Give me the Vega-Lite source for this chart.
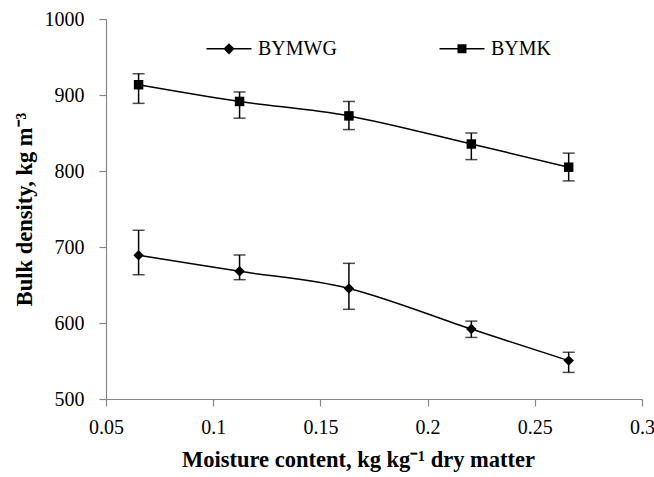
{
  "$schema": "https://vega.github.io/schema/vega-lite/v6.json",
  "width": 536,
  "height": 380,
  "autosize": "none",
  "padding": {"left": 106, "top": 19, "right": 12, "bottom": 78},
  "background": "white",
  "config": {
    "font": "Liberation Serif",
    "view": {"stroke": null},
    "style": {
      "guide-label": {"font": "Liberation Serif", "fontSize": 20, "fill": "black"},
      "guide-title": {"font": "Liberation Serif"}
    },
    "axis": {
      "grid": false,
      "domainColor": "#868686",
      "tickColor": "#868686",
      "domainWidth": 1.2,
      "tickWidth": 1.2,
      "tickSize": 7,
      "labelFont": "Liberation Serif",
      "labelFontSize": 20,
      "labelColor": "black",
      "titleFont": "Liberation Serif",
      "titleFontSize": 22.5,
      "titleFontWeight": "bold",
      "titleColor": "black"
    }
  },
  "data": {
    "values": [
      {"series": "BYMWG", "mc": 0.0652, "bd": 689, "lo": 663.5, "hi": 722},
      {"series": "BYMWG", "mc": 0.1123, "bd": 668, "lo": 657, "hi": 689.5},
      {"series": "BYMWG", "mc": 0.1633, "bd": 645.5, "lo": 618, "hi": 678.5},
      {"series": "BYMWG", "mc": 0.2204, "bd": 592, "lo": 581, "hi": 602.5},
      {"series": "BYMWG", "mc": 0.2658, "bd": 550.5, "lo": 535, "hi": 561.5},
      {"series": "BYMK", "mc": 0.0652, "bd": 913.5, "lo": 889, "hi": 928},
      {"series": "BYMK", "mc": 0.1123, "bd": 891.5, "lo": 869.5, "hi": 904},
      {"series": "BYMK", "mc": 0.1633, "bd": 872.5, "lo": 854.5, "hi": 891.5},
      {"series": "BYMK", "mc": 0.2204, "bd": 835.5, "lo": 815, "hi": 850},
      {"series": "BYMK", "mc": 0.2658, "bd": 805, "lo": 787, "hi": 823.5}
    ]
  },
  "encoding": {
    "x": {
      "field": "mc",
      "type": "quantitative",
      "scale": {"domain": [0.05, 0.3], "nice": false, "zero": false},
      "axis": {
        "values": [0.05, 0.1, 0.15, 0.2, 0.25, 0.3],
        "format": ".2~f",
        "labelFont": "Liberation Serif",
        "labelFontSize": 20,
        "labelPadding": 11,
        "labelFlush": false,
        "title": "Moisture content, kg kg⁻¹ dry matter",
        "titlePadding": 11,
        "titleX": 252
      }
    }
  },
  "layer": [
    {
      "mark": {"type": "line", "interpolate": "cardinal", "color": "black", "strokeWidth": 1.5},
      "encoding": {
        "y": {
          "field": "bd",
          "type": "quantitative",
          "title": "Bulk density, kg m⁻³",
          "scale": {"domain": [500, 1000], "nice": false, "zero": false},
          "axis": {
            "values": [500, 600, 700, 800, 900, 1000],
            "format": "d",
            "labelFont": "Liberation Serif",
            "labelFontSize": 20,
            "labelPadding": 15,
            "titlePadding": 8
          }
        },
        "detail": {"field": "series"}
      }
    },
    {
      "mark": {"type": "errorbar", "ticks": {"size": 12, "thickness": 1.5, "color": "black"}, "rule": {"strokeWidth": 1.5, "color": "black"}},
      "encoding": {
        "y": {"field": "lo", "type": "quantitative", "title": "Bulk density, kg m⁻³"},
        "y2": {"field": "hi"},
        "detail": {"field": "series"}
      }
    },
    {
      "transform": [{"filter": "datum.series === 'BYMWG'"}],
      "mark": {"type": "point", "shape": "diamond", "filled": true, "opacity": 1, "size": 110, "color": "black"},
      "encoding": {
        "y": {"field": "bd", "type": "quantitative", "title": "Bulk density, kg m⁻³"}
      }
    },
    {
      "transform": [{"filter": "datum.series === 'BYMK'"}],
      "mark": {"type": "point", "shape": "square", "filled": true, "opacity": 1, "size": 90, "color": "black"},
      "encoding": {
        "y": {"field": "bd", "type": "quantitative", "title": "Bulk density, kg m⁻³"}
      }
    },
    {
      "mark": {"type": "point", "filled": true, "opacity": 0, "size": 90, "color": "black"},
      "encoding": {
        "y": {"field": "bd", "type": "quantitative", "title": "Bulk density, kg m⁻³"},
        "shape": {
          "field": "series",
          "type": "nominal",
          "sort": ["BYMWG", "BYMK"],
          "scale": {
            "domain": ["BYMWG", "BYMK"],
            "range": [
              "M-1,-0.034L1,-0.034L1,0.034L-1,0.034ZM0,-0.25L0.25,0L0,0.25L-0.25,0Z",
              "M-1,-0.034L1,-0.034L1,0.034L-1,0.034ZM-0.2,-0.2L0.2,-0.2L0.2,0.2L-0.2,0.2Z"
            ]
          },
          "legend": {
            "title": null,
            "orient": "none",
            "direction": "horizontal",
            "legendX": 100.5,
            "legendY": 7,
            "padding": 0,
            "symbolSize": 2025,
            "symbolOpacity": 1,
            "symbolStrokeWidth": 0,
            "symbolFillColor": "black",
            "labelFont": "Liberation Serif",
            "labelFontSize": 20,
            "labelColor": "black",
            "labelOffset": 6.5,
            "columnPadding": 102
          }
        }
      }
    }
  ]
}
